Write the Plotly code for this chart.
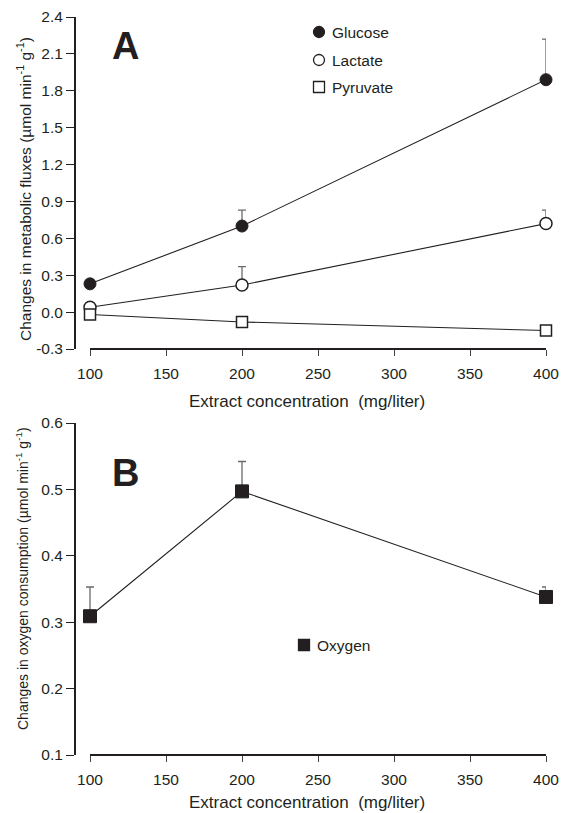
import plotly.graph_objects as go

# ---------------- data ----------------
conc = [100, 200, 400]

glucose = [0.23, 0.70, 1.89]
glucose_err = [0.0, 0.13, 0.33]
lactate = [0.04, 0.22, 0.72]
lactate_err = [0.0, 0.15, 0.11]
pyruvate = [-0.02, -0.08, -0.15]
pyruvate_err = [0.0, 0.0, 0.0]

oxygen = [0.309, 0.497, 0.338]
oxygen_err = [0.044, 0.045, 0.015]

x_ticks = [100, 150, 200, 250, 300, 350, 400]
yA_ticks = [-0.3, 0.0, 0.3, 0.6, 0.9, 1.2, 1.5, 1.8, 2.1, 2.4]
yB_ticks = [0.1, 0.2, 0.3, 0.4, 0.5, 0.6]

W, H = 562, 813
FONT = "Liberation Sans, Arial, Helvetica, sans-serif"
INK = "#231f20"


def fx(p):
    return p / W


def fy(p):
    return 1 - p / H


# pixel geometry of plot areas
left_px, right_px = 76, 546
x100_px = 90
units_per_px = (x_ticks[-1] - x_ticks[0]) / (right_px - x100_px)
x_range = [x_ticks[0] - (x100_px - left_px) * units_per_px, x_ticks[-1]]

fig = go.Figure()


def add_series(y, err, xa, ya, symbol, fill, size, line_w):
    fig.add_trace(go.Scatter(
        x=conc, y=y, xaxis=xa, yaxis=ya, mode="lines+markers",
        line=dict(color=INK, width=1.1),
        marker=dict(symbol=symbol, size=size, color=fill,
                    line=dict(color=INK, width=line_w)),
        error_y=dict(type="data", symmetric=False, array=err,
                     arrayminus=[0] * len(err), color="#6b6b6b",
                     thickness=1.3, width=4),
        cliponaxis=False, showlegend=False, hoverinfo="skip",
    ))


add_series(glucose, glucose_err, "x", "y", "circle", INK, 12, 1)
add_series(lactate, lactate_err, "x", "y", "circle", "white", 12, 1.5)
add_series(pyruvate, pyruvate_err, "x", "y", "square", "white", 11, 1.5)
add_series(oxygen, oxygen_err, "x2", "y2", "square", INK, 13, 1)

axis_common = dict(showgrid=False, zeroline=False, automargin=False,
                   tickfont=dict(family=FONT, size=15.5, color=INK))

yA_dom = [fy(349), fy(17)]
yB_dom = [fy(755), fy(423)]

x_axis_style = dict(tickvals=x_ticks, ticktext=[str(v) for v in x_ticks],
                    ticks="outside", ticklen=6, tickwidth=1.3, tickcolor="#444",
                    ticklabelstandoff=4, showline=False, **axis_common)

fig.update_layout(
    width=W, height=H, autosize=False,
    margin=dict(l=0, r=0, t=0, b=0, pad=0),
    paper_bgcolor="white", plot_bgcolor="white",
    xaxis=dict(domain=[fx(left_px), fx(right_px)], range=x_range,
               anchor="y", **x_axis_style),
    yaxis=dict(domain=yA_dom, range=[yA_ticks[0], yA_ticks[-1]], anchor="x",
               tickvals=yA_ticks, ticktext=[f"{v:.1f}" for v in yA_ticks],
               ticks="outside", ticklen=8,
               tickwidth=1.3, tickcolor=INK, showline=True, linewidth=2,
               linecolor=INK, **axis_common),
    xaxis2=dict(domain=[fx(left_px), fx(right_px)], range=x_range,
                anchor="y2", **x_axis_style),
    yaxis2=dict(domain=yB_dom, range=[yB_ticks[0], yB_ticks[-1]], anchor="x2",
                tickvals=yB_ticks, ticktext=[f"{v:.1f}" for v in yB_ticks],
                ticks="outside", ticklen=8,
                tickwidth=1.3, tickcolor=INK, showline=True, linewidth=2,
                linecolor=INK, **axis_common),
)

# separated x-axis lines (100 to 400)
for xa, ya in (("x", "y domain"), ("x2", "y2 domain")):
    fig.add_shape(type="line", xref=xa, yref=ya, x0=x_ticks[0], x1=x_ticks[-1],
                  y0=0, y1=0, line=dict(color=INK, width=2))

ann = []
xtitle = "Extract concentration  (mg/liter)"
ann.append(dict(text=xtitle, x=fx(307), y=fy(402), showarrow=False,
                xref="paper", yref="paper", xanchor="center", yanchor="middle",
                font=dict(family=FONT, size=17, color=INK)))
ann.append(dict(text=xtitle, x=fx(307), y=fy(802), showarrow=False,
                xref="paper", yref="paper", xanchor="center", yanchor="middle",
                font=dict(family=FONT, size=17, color=INK)))
ann.append(dict(text="Changes in metabolic fluxes (µmol min<sup>-1</sup> g<sup>-1</sup>)",
                x=fx(24), y=fy(189), textangle=-90, showarrow=False,
                xref="paper", yref="paper", xanchor="center", yanchor="middle",
                font=dict(family=FONT, size=15.5, color=INK)))
ann.append(dict(text="Changes in oxygen consumption (µmol min<sup>-1</sup> g<sup>-1</sup>)",
                x=fx(22), y=fy(579), textangle=-90, showarrow=False,
                xref="paper", yref="paper", xanchor="center", yanchor="middle",
                font=dict(family=FONT, size=14, color=INK)))
# panel letters
ann.append(dict(text="<b>A</b>", x=fx(125), y=fy(46), showarrow=False,
                xref="paper", yref="paper", xanchor="center", yanchor="middle",
                font=dict(family=FONT, size=38, color=INK)))
ann.append(dict(text="<b>B</b>", x=fx(125), y=fy(473), showarrow=False,
                xref="paper", yref="paper", xanchor="center", yanchor="middle",
                font=dict(family=FONT, size=38, color=INK)))

# legends (keys drawn as small shapes next to text labels)
legend_items = [
    ("Glucose", "circle", INK, 319, 32),
    ("Lactate", "circle", "white", 319, 60),
    ("Pyruvate", "rect", "white", 319, 87),
    ("Oxygen", "rect", INK, 304, 645),
]
for name, kind, fill, mx, my in legend_items:
    half = 5.5
    fig.add_shape(type=kind, xref="paper", yref="paper",
                  xsizemode="pixel", ysizemode="pixel",
                  xanchor=fx(mx), yanchor=fy(my),
                  x0=-half, x1=half, y0=-half, y1=half,
                  fillcolor=fill, line=dict(color=INK, width=1.3))
    ann.append(dict(text=name, x=fx(mx + 11), y=fy(my), showarrow=False,
                    xref="paper", yref="paper", xanchor="left", yanchor="middle",
                    font=dict(family=FONT, size=15.5, color=INK)))

fig.update_layout(annotations=ann)
fig.write_html("out.html", config={"responsive": False})
